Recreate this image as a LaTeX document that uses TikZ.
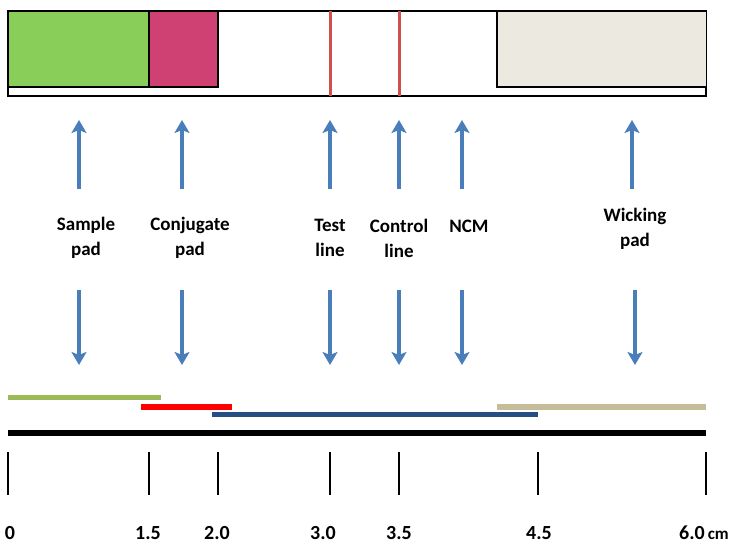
\documentclass[tikz,border=0pt]{standalone}
\usepackage{fontspec}
\setmainfont{Carlito}
\usetikzlibrary{arrows.meta}
\definecolor{padgreen}{HTML}{8ACE5A}
\definecolor{padpink}{HTML}{CF4073}
\definecolor{linered}{HTML}{D0504D}
\definecolor{wickfill}{HTML}{ECEAE0}
\definecolor{arrowblue}{HTML}{4A7EBB}
\definecolor{lgreen}{HTML}{9BBB59}
\definecolor{lred}{HTML}{FF0000}
\definecolor{lblue}{HTML}{254F82}
\definecolor{ltan}{HTML}{C4BD97}
\tikzset{
  lbl/.style={font=\bfseries\fontsize{19}{25}\selectfont, align=center, inner sep=0pt},
  numlbl/.style={font=\bfseries\fontsize{20}{22}\selectfont, inner sep=0pt, anchor=base},
  bluearrow/.style={draw=arrowblue, line width=3.4pt, -{Stealth[length=13pt,width=15pt,inset=3pt]}},
  padbox/.style={draw=black, line width=1.5pt},
  band/.style={line width=5pt},
  tick/.style={draw=black, line width=2.4pt}
}
\begin{document}
\begin{tikzpicture}[x=1pt,y=-1pt]
\useasboundingbox (0,0) rectangle (734,545);
% strip
\draw[line width=1.5pt] (8,11) rectangle (706,96);
\fill[padgreen] (8,11) rectangle (149,87);
\draw[padbox] (8,11) rectangle (149,87);
\fill[padpink] (149,11) rectangle (218,87);
\draw[padbox] (149,11) rectangle (218,87);
\fill[wickfill] (497,11) rectangle (706,87);
\draw[padbox] (706,11) -- (497,11) -- (497,87) -- (706,87);
\draw[line width=1.5pt] (8,11) -- (706,11);
\draw[linered, line width=3pt] (330,11) -- (330,96);
\draw[linered, line width=3pt] (399,11) -- (399,96);
% labels
\node[lbl] (sample) at (86,238) {Sample\\pad};
\node[lbl] (conj) at (190,238) {Conjugate\\pad};
\node[lbl] (test) at (330,238) {Test\\line};
\node[lbl] (ctrl) at (399,238) {Control\\line};
\node[lbl] (ncm) at (469,226) {NCM};
\node[lbl] (wick) at (635,229) {Wicking\\pad};
% arrow coordinates
\foreach \n/\x in {a/79,b/182,c/330,d/399,e/462,f/632}{
  \coordinate (up\n s) at (\x,189);
  \coordinate (up\n e) at (\x,120);
}
\foreach \n/\x in {a/79,b/182,c/330,d/399,e/462,f/635}{
  \coordinate (dn\n s) at (\x,290);
  \coordinate (dn\n e) at (\x,365);
}
\foreach \n in {a,b,c,d,e,f}{
  \draw[bluearrow] (up\n s) -- (up\n e);
  \draw[bluearrow] (dn\n s) -- (dn\n e);
}
% bands
\draw[band, lgreen] (8,398) -- (161,398);
\draw[band, lred] (141,407) -- (232,407);
\draw[band, ltan] (497,407) -- (706,407);
\draw[band, lblue] (212,414) -- (538,414);
\draw[black, line width=6.5pt] (8,433) -- (706,433);
% ticks
\foreach \x in {8,149,218,330,399,538,706}{
  \draw[tick] (\x,452) -- (\x,495);
}
\node[numlbl] (t0) at (10,539) {0};
\node[numlbl] (t15) at (148,539) {1.5};
\node[numlbl] (t20) at (217,539) {2.0};
\node[numlbl] (t30) at (323,539) {3.0};
\node[numlbl] (t35) at (399,539) {3.5};
\node[numlbl] (t45) at (539,539) {4.5};
\node[numlbl, anchor=base west] (t60) at (679,539) {6.0\hspace{3pt}{\fontsize{17}{19}\selectfont cm}};
\end{tikzpicture}
\end{document}
